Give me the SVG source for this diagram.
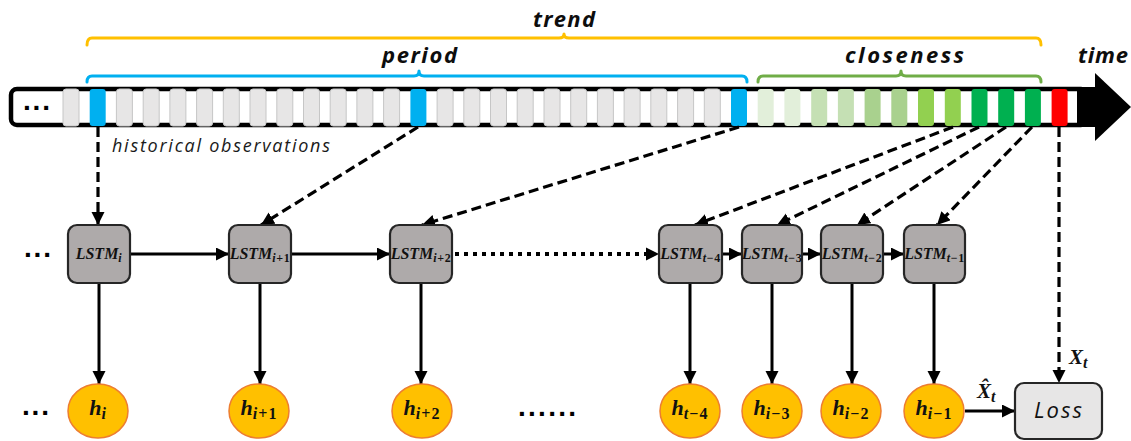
<svg xmlns="http://www.w3.org/2000/svg" width="1131" height="441" viewBox="0 0 1131 441">
<style>
.lbl{font-family:"Open Sans","Liberation Sans",Arial,sans-serif;font-weight:bold;font-style:italic;font-size:22px;fill:#0d0d0d}
.dots{font-family:"Liberation Sans",Arial,sans-serif;font-weight:bold;font-size:28px;fill:#000}
.cell{stroke:none}
.gray{fill:#e7e6e6;stroke:#c6c6c6;stroke-width:1}
.brace{fill:none;stroke-width:3;stroke-linecap:round;stroke-linejoin:round}
.lstm{fill:#aeaaaa;stroke:#262626;stroke-width:2.2}
.lt{font-family:"Liberation Serif","Times New Roman",serif;font-weight:bold;font-style:italic;font-size:16px;fill:#111}
.sub{font-size:12px;letter-spacing:0.6px}
.up{font-style:normal}
.hc{fill:#ffc000;stroke:#ed7d31;stroke-width:1.5}
.ht{font-family:"Liberation Serif","Times New Roman",serif;font-weight:bold;font-style:italic;font-size:22px;fill:#111}
.hs{font-size:16px;letter-spacing:1px}
.solid{fill:none;stroke:#000;stroke-width:3}
.dash{fill:none;stroke:#000;stroke-width:3.2;stroke-dasharray:10 5}
.dot{fill:none;stroke:#000;stroke-width:4;stroke-dasharray:4 5}
.xl{font-family:"Liberation Serif","Times New Roman",serif;font-weight:bold;font-style:italic;font-size:21px;fill:#111}
</style>
<defs>
<marker id="ah" markerUnits="userSpaceOnUse" markerWidth="14" markerHeight="14" refX="13" refY="6.5" orient="auto">
<path d="M0,0 L13,6.5 L0,13 z" fill="#000"/>
</marker>
</defs>

<!-- braces -->
<g id="braces">
<path class="brace" stroke="#ffc000" d="M87,45 Q87,38 92,38 L559,38 Q564,38 564,34 Q564,38 569,38 L1036,38 Q1041,38 1041,45"/>
<path class="brace" stroke="#00b0f0" d="M87,82 Q87,76 92,76 L414,76 Q419,76 419,71 Q419,76 424,76 L742,76 Q747,76 747,82"/>
<path class="brace" stroke="#70ad47" d="M758,82 Q758,76 763,76 L896,76 Q901,76 901,71 Q901,76 906,76 L1036,76 Q1041,76 1041,82"/>
<text class="lbl" x="564" y="27" text-anchor="middle" textLength="62" lengthAdjust="spacing">trend</text>
<text class="lbl" x="419.5" y="63" text-anchor="middle" textLength="75" lengthAdjust="spacing">period</text>
<text class="lbl" x="904.5" y="63" text-anchor="middle" textLength="119" lengthAdjust="spacing">closeness</text>
<text class="lbl" x="1078" y="63" textLength="50" lengthAdjust="spacing">time</text>
</g>

<!-- timeline -->
<g id="timeline">
<rect x="11" y="89" width="1076" height="36" rx="6" fill="#fff" stroke="#000" stroke-width="4.5"/>
<rect x="1077" y="87" width="20" height="40" fill="#000"/>
<polygon points="1095,73 1131,107 1095,141" fill="#000"/>
<text class="dots" x="23" y="110" textLength="27" lengthAdjust="spacing">...</text>
<rect class="gray" x="63.0" y="89" width="16" height="37" rx="3"/>
<rect class="cell" fill="#00b0f0" x="89.7" y="89" width="16" height="37" rx="3"/>
<rect class="gray" x="116.4" y="89" width="16" height="37" rx="3"/>
<rect class="gray" x="143.2" y="89" width="16" height="37" rx="3"/>
<rect class="gray" x="169.9" y="89" width="16" height="37" rx="3"/>
<rect class="gray" x="196.6" y="89" width="16" height="37" rx="3"/>
<rect class="gray" x="223.3" y="89" width="16" height="37" rx="3"/>
<rect class="gray" x="250.0" y="89" width="16" height="37" rx="3"/>
<rect class="gray" x="276.8" y="89" width="16" height="37" rx="3"/>
<rect class="gray" x="303.5" y="89" width="16" height="37" rx="3"/>
<rect class="gray" x="330.2" y="89" width="16" height="37" rx="3"/>
<rect class="gray" x="356.9" y="89" width="16" height="37" rx="3"/>
<rect class="gray" x="383.6" y="89" width="16" height="37" rx="3"/>
<rect class="cell" fill="#00b0f0" x="410.4" y="89" width="16" height="37" rx="3"/>
<rect class="gray" x="437.1" y="89" width="16" height="37" rx="3"/>
<rect class="gray" x="463.8" y="89" width="16" height="37" rx="3"/>
<rect class="gray" x="490.5" y="89" width="16" height="37" rx="3"/>
<rect class="gray" x="517.2" y="89" width="16" height="37" rx="3"/>
<rect class="gray" x="544.0" y="89" width="16" height="37" rx="3"/>
<rect class="gray" x="570.7" y="89" width="16" height="37" rx="3"/>
<rect class="gray" x="597.4" y="89" width="16" height="37" rx="3"/>
<rect class="gray" x="624.1" y="89" width="16" height="37" rx="3"/>
<rect class="gray" x="650.8" y="89" width="16" height="37" rx="3"/>
<rect class="gray" x="677.6" y="89" width="16" height="37" rx="3"/>
<rect class="gray" x="704.3" y="89" width="16" height="37" rx="3"/>
<rect class="cell" fill="#00b0f0" x="731.0" y="89" width="16" height="37" rx="3"/>
<rect class="cell" fill="#e2efda" x="757.7" y="89" width="16" height="37" rx="3"/>
<rect class="cell" fill="#e2efda" x="784.4" y="89" width="16" height="37" rx="3"/>
<rect class="cell" fill="#c5e0b4" x="811.2" y="89" width="16" height="37" rx="3"/>
<rect class="cell" fill="#c5e0b4" x="837.9" y="89" width="16" height="37" rx="3"/>
<rect class="cell" fill="#a9d18e" x="864.6" y="89" width="16" height="37" rx="3"/>
<rect class="cell" fill="#a9d18e" x="891.3" y="89" width="16" height="37" rx="3"/>
<rect class="cell" fill="#92d050" x="918.0" y="89" width="16" height="37" rx="3"/>
<rect class="cell" fill="#92d050" x="944.8" y="89" width="16" height="37" rx="3"/>
<rect class="cell" fill="#00b050" x="971.5" y="89" width="16" height="37" rx="3"/>
<rect class="cell" fill="#00b050" x="998.2" y="89" width="16" height="37" rx="3"/>
<rect class="cell" fill="#00b050" x="1024.9" y="89" width="16" height="37" rx="3"/>
<rect class="cell" fill="#ff0000" x="1051.6" y="89" width="16" height="37" rx="3"/>
<text x="112" y="152" font-family="'Open Sans','Liberation Sans',Arial,sans-serif" font-style="italic" font-size="18" fill="#1a1a1a" textLength="218" lengthAdjust="spacing">historical observations</text>
</g>

<!-- connectors -->
<g id="connectors">
<path class="dash" marker-end="url(#ah)" d="M98,127 L98,225"/>
<path class="dash" marker-end="url(#ah)" d="M418,127 L261,225"/>
<path class="dash" marker-end="url(#ah)" d="M739,127 L422,225"/>
<path class="dash" marker-end="url(#ah)" d="M953,127 L695,225"/>
<path class="dash" marker-end="url(#ah)" d="M979,127 L777,225"/>
<path class="dash" marker-end="url(#ah)" d="M1006,127 L857,225"/>
<path class="dash" marker-end="url(#ah)" d="M1032,127 L937,225"/>
<path class="dash" marker-end="url(#ah)" d="M1059,127 L1059,383"/>
<path class="solid" marker-end="url(#ah)" d="M130,254 L229,254"/>
<path class="solid" marker-end="url(#ah)" d="M291,254 L390,254"/>
<path class="dot" d="M455,254 L647,254"/>
<path d="M646,247.5 L659,254 L646,260.5 z" fill="#000"/>
<path class="solid" marker-end="url(#ah)" d="M722,254 L742,254"/>
<path class="solid" marker-end="url(#ah)" d="M802,254 L821,254"/>
<path class="solid" marker-end="url(#ah)" d="M883,254 L904,254"/>
<path class="solid" marker-end="url(#ah)" d="M99,283 L99,384"/>
<path class="solid" marker-end="url(#ah)" d="M260,283 L260,384"/>
<path class="solid" marker-end="url(#ah)" d="M421,283 L421,384"/>
<path class="solid" marker-end="url(#ah)" d="M690,283 L690,384"/>
<path class="solid" marker-end="url(#ah)" d="M772,283 L772,384"/>
<path class="solid" marker-end="url(#ah)" d="M852,283 L852,384"/>
<path class="solid" marker-end="url(#ah)" d="M934,283 L934,384"/>
<path class="solid" marker-end="url(#ah)" d="M965,411 L1015,411"/>
<text class="xl" x="977" y="398">X̂<tspan font-size="16" dy="4">t</tspan></text>
<text class="xl" x="1069" y="364">X<tspan font-size="16" dy="4">t</tspan></text>
</g>

<text class="dots" x="24" y="257" textLength="27" lengthAdjust="spacing">...</text>
<text class="dots" x="22" y="415" textLength="27" lengthAdjust="spacing">...</text>
<text class="dots" x="518" y="416" textLength="58" lengthAdjust="spacing">......</text>

<g id="lstm_i"><rect class="lstm" x="68" y="225" width="62" height="58" rx="9"/><text class="lt" x="99" y="259" text-anchor="middle">LSTM<tspan class="sub" dy="3">i</tspan></text></g>
<g id="lstm_i1"><rect class="lstm" x="229" y="225" width="62" height="58" rx="9"/><text class="lt" x="260" y="259" text-anchor="middle">LSTM<tspan class="sub" dy="3">i<tspan class="up">+1</tspan></tspan></text></g>
<g id="lstm_i2"><rect class="lstm" x="390" y="225" width="62" height="58" rx="9"/><text class="lt" x="421" y="259" text-anchor="middle">LSTM<tspan class="sub" dy="3">i<tspan class="up">+2</tspan></tspan></text></g>
<g id="lstm_t4"><rect class="lstm" x="659" y="225" width="63" height="58" rx="9"/><text class="lt" x="690.5" y="259" text-anchor="middle">LSTM<tspan class="sub" dy="3">t<tspan class="up">−4</tspan></tspan></text></g>
<g id="lstm_t3"><rect class="lstm" x="742" y="225" width="60" height="58" rx="9"/><text class="lt" x="772" y="259" text-anchor="middle">LSTM<tspan class="sub" dy="3">t<tspan class="up">−3</tspan></tspan></text></g>
<g id="lstm_t2"><rect class="lstm" x="821" y="225" width="62" height="58" rx="9"/><text class="lt" x="852" y="259" text-anchor="middle">LSTM<tspan class="sub" dy="3">t<tspan class="up">−2</tspan></tspan></text></g>
<g id="lstm_t1"><rect class="lstm" x="904" y="225" width="61" height="58" rx="9"/><text class="lt" x="934.5" y="259" text-anchor="middle">LSTM<tspan class="sub" dy="3">t<tspan class="up">−1</tspan></tspan></text></g>

<g id="h_i"><ellipse class="hc" cx="98" cy="411" rx="30" ry="27"/><text class="ht" x="98" y="415" text-anchor="middle">h<tspan class="hs" dy="4">i</tspan></text></g>
<g id="h_i1"><ellipse class="hc" cx="259" cy="411" rx="30" ry="27"/><text class="ht" x="259" y="415" text-anchor="middle">h<tspan class="hs" dy="4">i<tspan class="up">+1</tspan></tspan></text></g>
<g id="h_i2"><ellipse class="hc" cx="422" cy="411" rx="30" ry="27"/><text class="ht" x="422" y="415" text-anchor="middle">h<tspan class="hs" dy="4">i<tspan class="up">+2</tspan></tspan></text></g>
<g id="h_t4"><ellipse class="hc" cx="690" cy="411" rx="30" ry="27"/><text class="ht" x="690" y="415" text-anchor="middle">h<tspan class="hs" dy="4">t<tspan class="up">−4</tspan></tspan></text></g>
<g id="h_i3"><ellipse class="hc" cx="772" cy="411" rx="30" ry="27"/><text class="ht" x="772" y="415" text-anchor="middle">h<tspan class="hs" dy="4">i<tspan class="up">−3</tspan></tspan></text></g>
<g id="h_i_2"><ellipse class="hc" cx="851" cy="411" rx="30" ry="27"/><text class="ht" x="851" y="415" text-anchor="middle">h<tspan class="hs" dy="4">i<tspan class="up">−2</tspan></tspan></text></g>
<g id="h_i_1"><ellipse class="hc" cx="934" cy="411" rx="30" ry="27"/><text class="ht" x="934" y="415" text-anchor="middle">h<tspan class="hs" dy="4">i<tspan class="up">−1</tspan></tspan></text></g>

<g id="loss"><rect x="1015" y="383" width="87" height="56" rx="9" fill="#e7e6e6" stroke="#262626" stroke-width="2.2"/><text x="1058" y="418" text-anchor="middle" font-family="'Open Sans','Liberation Sans',Arial,sans-serif" font-style="italic" font-size="22" fill="#111" textLength="48" lengthAdjust="spacing">Loss</text></g>
</svg>
